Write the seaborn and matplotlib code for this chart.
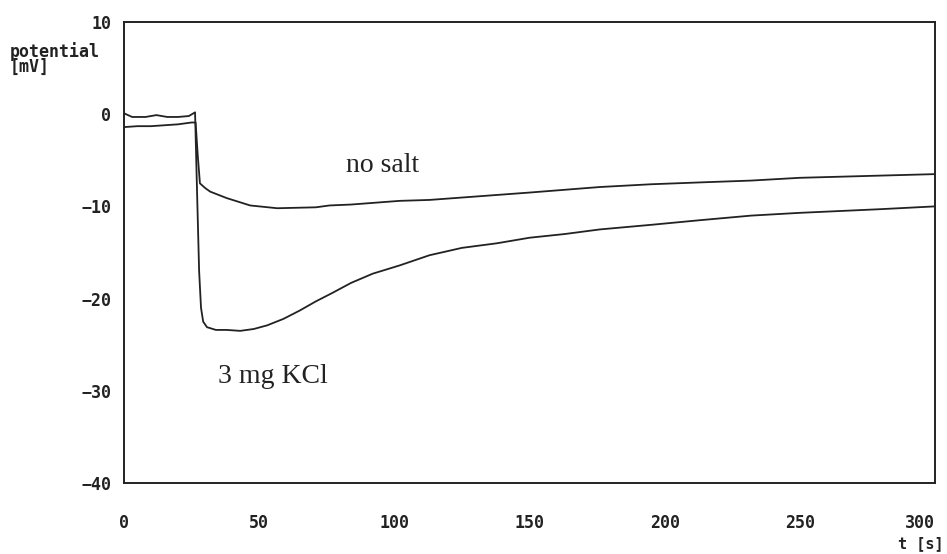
import pandas as pd
import matplotlib
matplotlib.use("Agg")
import matplotlib.pyplot as plt
import seaborn as sns

# potential trace after adding 3 mg KCl (s, mV)
t_kcl = [0, 3, 8, 12, 16, 20, 24, 26.3, 27.0, 27.8, 28.5, 29.3, 30.7, 34, 38, 43,
         48, 53, 59, 65, 71, 77, 84, 92, 102, 113, 125, 138, 150, 163, 176,
         195, 213, 232, 250, 265, 280, 300]
u_kcl = [0.1, -0.3, -0.3, -0.1, -0.3, -0.3, -0.2, 0.2, -8.0, -17.0, -21.0, -22.5, -23.1, -23.4, -23.4, -23.5,
         -23.3, -22.9, -22.2, -21.3, -20.3, -19.4, -18.3, -17.3, -16.4, -15.3, -14.5, -14.0, -13.4, -13.0, -12.5,
         -12.0, -11.5, -11.0, -10.7, -10.5, -10.3, -10.0]

# potential trace without salt
t_nosalt = [0, 5, 10, 15, 20, 25, 26.5, 27.3, 28.1, 30.0, 31.9, 38, 46.7, 56.7, 71,
            76, 84, 102, 113, 150, 176, 195, 213, 232, 250, 275, 300]
u_nosalt = [-1.4, -1.3, -1.3, -1.2, -1.1, -0.9, -0.9, -4.5, -7.5, -8.0, -8.4, -9.1, -9.9, -10.2, -10.1,
            -9.9, -9.8, -9.4, -9.3, -8.5, -7.9, -7.6, -7.4, -7.2, -6.9, -6.7, -6.5]

xticks = [0, 50, 100, 150, 200, 250, 300]
yticks = [10, 0, -10, -20, -30, -40]

df = pd.concat([
    pd.DataFrame({"t": t_kcl, "u": u_kcl, "run": "3 mg KCl"}),
    pd.DataFrame({"t": t_nosalt, "u": u_nosalt, "run": "no salt"}),
])

sns.set_style("white")
plt.rcParams['font.family'] = ['DejaVu Sans Mono', 'DejaVu Sans']

fig = plt.figure(figsize=(9.47, 5.54), dpi=100)
ax = fig.add_axes([0.1309, 0.1282, 0.8564, 0.8321])

sns.lineplot(data=df, x="t", y="u", hue="run", palette={"3 mg KCl": "#222222", "no salt": "#222222"},
             linewidth=1.3, legend=False, ax=ax, sort=False, estimator=None)

ax.set_xlim(0, 300)
ax.set_ylim(-40, 10)
ax.set_xticks(xticks)
ax.set_yticks(yticks)
ax.set_xlabel("")
ax.set_ylabel("")
for s in ax.spines.values():
    s.set_visible(True)
    s.set_color("#222222")
    s.set_linewidth(1.4)

ax.tick_params(axis="x", direction="in", length=5, width=1.2, pad=22, colors="#222222", labelsize=12)
ax.tick_params(axis="y", direction="in", length=5, width=1.2, pad=9, colors="#222222", labelsize=12)
for lab in ax.get_xticklabels() + ax.get_yticklabels():
    lab.set_fontweight("bold")
ax.get_xticklabels()[-1].set_horizontalalignment("right")

ax.text(82, -6.3, "no salt", family="Liberation Serif", fontsize=20, color="#222222")
ax.text(34.8, -29.2, "3 mg KCl", family="Liberation Serif", fontsize=20, color="#222222")

fig.text(10 / 947, 1 - 76 / 554, "potential\n[mV]", fontsize=12, fontweight="bold",
         color="#222222", va="bottom", ha="left", linespacing=0.8)
fig.text(944 / 947, 3 / 554, "t [s]", fontsize=11, fontweight="bold",
         color="#222222", va="bottom", ha="right")

fig.savefig("out.png", dpi=100)
